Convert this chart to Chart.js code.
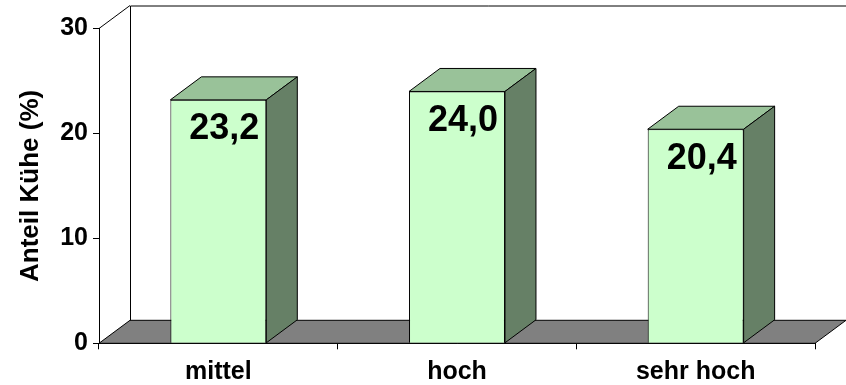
<!DOCTYPE html>
<html>
<head>
<meta charset="utf-8">
<style>
  html, body { margin: 0; padding: 0; background: #ffffff; }
  #wrap { width: 846px; height: 385px; }
</style>
<script src="https://cdn.jsdelivr.net/npm/chart.js@4/dist/chart.umd.min.js"></script>
</head>
<body>
<div id="wrap"><canvas id="c" width="846" height="385"></canvas></div>
<script>
// Herd groups and share of cows per group
const categories = ['mittel', 'hoch', 'sehr hoch'];
const shares = [23.2, 24.0, 20.4];
const yTickValues = [0, 10, 20, 30];
const yAxisTitle = 'Anteil Kühe (%)';

const FONT = '"Liberation Sans", Arial, Helvetica, sans-serif';
const FRONT = '#CCFFCC';
const TOP = '#99C299';
const SIDE = '#668066';
const FLOOR = '#808080';
const DEPTH = { dx: 31, dy: -23 };

function fmt(v) { return v.toFixed(1).replace('.', ','); }

function poly(ctx, pts, fill) {
  ctx.beginPath();
  ctx.moveTo(pts[0][0], pts[0][1]);
  for (let i = 1; i < pts.length; i++) ctx.lineTo(pts[i][0], pts[i][1]);
  ctx.closePath();
  if (fill) { ctx.fillStyle = fill; ctx.fill(); }
  ctx.stroke();
}

// Floor, back wall and side wall of the 3D plot box
const plotBox = {
  id: 'plotBox',
  beforeDatasetsDraw(chart) {
    const { ctx, chartArea: a } = chart;
    const y0 = chart.scales.y.getPixelForValue(0);
    const { dx, dy } = DEPTH;
    ctx.save();
    ctx.lineWidth = 1;
    ctx.strokeStyle = '#000';
    poly(ctx, [[a.left, y0], [a.right, y0], [a.right + dx, y0 + dy], [a.left + dx, y0 + dy]], FLOOR);
    ctx.beginPath();
    ctx.moveTo(a.left + dx + 0.5, y0 + dy);
    ctx.lineTo(a.left + dx + 0.5, a.top + dy + 0.5);
    ctx.lineTo(a.right + dx, a.top + dy + 0.5);
    ctx.moveTo(a.left, a.top);
    ctx.lineTo(a.left + dx, a.top + dy);
    ctx.stroke();
    ctx.restore();
  },
  afterDatasetsDraw(chart) {
    const { ctx } = chart;
    const { dx, dy } = DEPTH;
    const meta = chart.getDatasetMeta(0);
    ctx.save();
    ctx.lineWidth = 1;
    ctx.strokeStyle = '#000';
    meta.data.forEach((bar, i) => {
      const { x, y, width, base } = bar.getProps(['x', 'y', 'width', 'base'], true);
      const l = x - width / 2, r = x + width / 2;
      poly(ctx, [[l, y], [r, y], [r + dx, y + dy], [l + dx, y + dy]], TOP);
      poly(ctx, [[r, y], [r + dx, y + dy], [r + dx, base + dy], [r, base]], SIDE);
      ctx.fillStyle = '#000';
      ctx.font = 'bold 36px ' + FONT;
      ctx.textAlign = 'center';
      ctx.textBaseline = 'alphabetic';
      ctx.fillText(fmt(shares[i]), x + 6, y + 39.5);
    });
    ctx.restore();
  }
};

new Chart(document.getElementById('c'), {
  type: 'bar',
  data: {
    labels: categories,
    datasets: [{
      data: shares,
      backgroundColor: FRONT,
      borderColor: '#000',
      borderWidth: 1,
      barPercentage: 0.402,
      categoryPercentage: 1
    }]
  },
  options: {
    responsive: false,
    devicePixelRatio: 1,
    animation: false,
    layout: { padding: { top: 28.5, right: 31, left: 0, bottom: 0 } },
    plugins: { legend: { display: false }, tooltip: { enabled: false } },
    scales: {
      x: {
        grid: { drawOnChartArea: false, color: '#000', tickLength: 6, lineWidth: 1 },
        border: { color: '#000', width: 1 },
        ticks: { color: '#000', padding: 8, font: { family: FONT, size: 25, weight: 'bold' } },
        afterFit(s) { s.height = 385 - 343.3; }
      },
      y: {
        min: 0,
        max: 30,
        afterBuildTicks(s) { s.ticks = yTickValues.map(v => ({ value: v })); },
        grid: { drawOnChartArea: false, color: '#000', tickLength: 6, lineWidth: 1 },
        border: { color: '#000', width: 1 },
        ticks: { color: '#000', padding: 5, font: { family: FONT, size: 25, weight: 'bold' } },
        title: {
          display: true,
          text: yAxisTitle,
          color: '#000',
          padding: { top: 15, bottom: 0 },
          font: { family: FONT, size: 26, weight: 'bold' }
        },
        afterFit(s) { s.width = 99; }
      }
    }
  },
  plugins: [plotBox]
});
</script>
</body>
</html>
